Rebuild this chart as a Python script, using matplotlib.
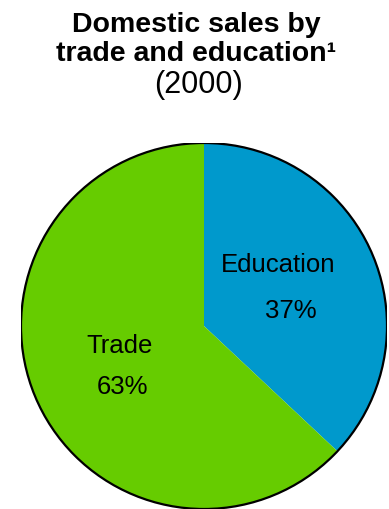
import matplotlib
matplotlib.use("Agg")
import matplotlib.pyplot as plt
from matplotlib.patches import Circle

plt.rcParams['font.family'] = ['Liberation Sans', 'DejaVu Sans']

# share of domestic sales, 2000
categories = ['Education', 'Trade']
shares = [37, 63]
colors = ['#0099CC', '#66CC00']

W, H = 389, 509
fig = plt.figure(figsize=(W / 100, H / 100), dpi=100)

# title lines
fig.text(0.505, 1 - 32 / H, 'Domestic sales by', ha='center', va='baseline',
         fontsize=20.5, fontweight='bold')
fig.text(0.505, 1 - 61 / H, 'trade and education\u00b9', ha='center', va='baseline',
         fontsize=20.5, fontweight='bold')
fig.text(0.51, 1 - 93 / H, '(2000)', ha='center', va='baseline', fontsize=22)

# pie axes: center (204, 326) px, radius 183 px
cx, cy, r = 204, 326, 183
ax = fig.add_axes([(cx - r) / W, (H - cy - r) / H, 2 * r / W, 2 * r / H])
ax.pie(shares, colors=colors, startangle=90, counterclock=False,
       wedgeprops=dict(linewidth=0), radius=1)
ax.add_patch(Circle((0, 0), 1, fill=False, ec='black', lw=1.6, zorder=5))
ax.set_xlim(-1, 1)
ax.set_ylim(-1, 1)
ax.set_aspect('equal')
ax.axis('off')

label_pos = {'Education': ((0.407, 0.333), (0.475, 0.082)),
             'Trade': ((-0.459, -0.107), (-0.445, -0.331))}
for name, val in zip(categories, shares):
    (lx, ly), (px, py) = label_pos[name]
    ax.text(lx, ly, name, ha='center', va='center', fontsize=18.5)
    ax.text(px, py, f'{val}%', ha='center', va='center', fontsize=18.5)

fig.savefig('out.png', dpi=100)
